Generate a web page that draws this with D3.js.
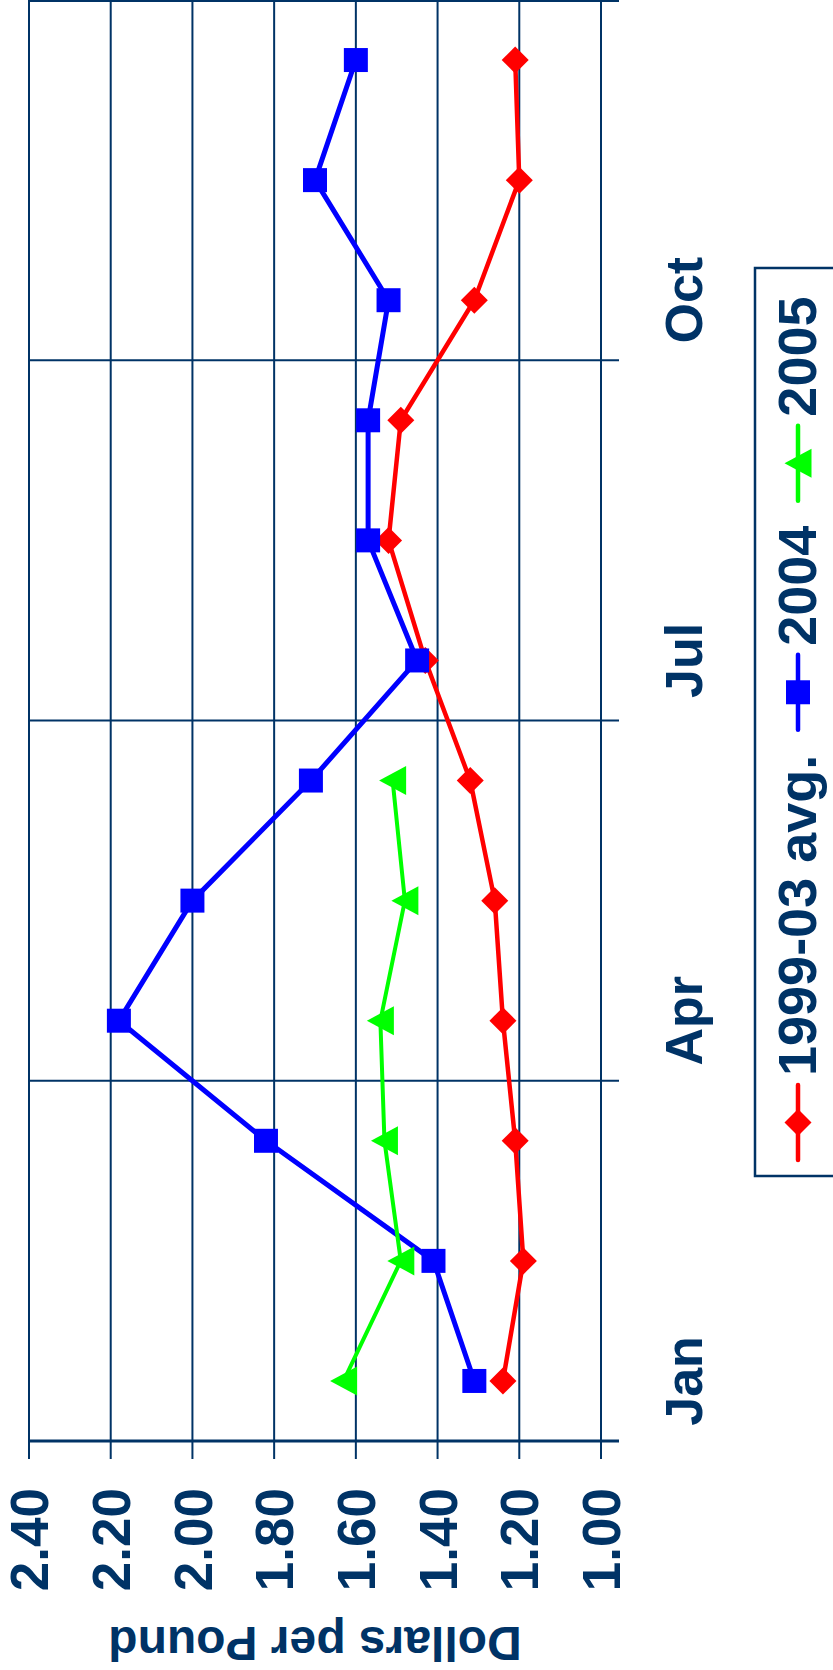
<!DOCTYPE html>
<html>
<head>
<meta charset="utf-8">
<script src="https://cdn.jsdelivr.net/npm/d3@7"></script>
<style>
  body { margin: 0; background: white; }
  svg { display: block; }
  text { font-family: "Liberation Sans", Arial, sans-serif; font-weight: bold; fill: #003366; }
</style>
</head>
<body>
<div id="container"></div>
<script>
let w = 833;
let h = 1670;

// DATA
let months = ["Jan","Feb","Mar","Apr","May","Jun","Jul","Aug","Sep","Oct","Nov","Dec"];
let monthLabels = ["Jan","","","Apr","","","Jul","","","Oct","",""];
let avg9903 = [1.24, 1.19, 1.21, 1.24, 1.26, 1.32, 1.43, 1.52, 1.49, 1.31, 1.20, 1.21];
let y2004 = [1.31, 1.41, 1.82, 2.18, 2.00, 1.71, 1.45, 1.57, 1.57, 1.52, 1.70, 1.60];
let y2005 = [1.63, 1.49, 1.53, 1.54, 1.48, 1.51];
let yTicks = [1.00, 1.20, 1.40, 1.60, 1.80, 2.00, 2.20, 2.40];
let seriesNames = ["1999-03 avg.", "2004", "2005"];
let seriesColors = ["#ff0000", "#0000ff", "#00ff00"];
let seriesShapes = ["diamond", "square", "triangle"];
let quarterStarts = ["Jan","Apr","Jul","Oct"];

let navy = "#003366";

let viz = d3.select("#container").append("svg")
    .attr("width", w)
    .attr("height", h);

// the chart is drawn in its normal orientation, then turned a quarter turn
let g = viz.append("g").attr("transform", "translate(0," + h + ") rotate(-90)");

let xScale = d3.scaleBand().domain(months).range([229, 1670]);
let yScale = d3.scaleLinear().domain([1.0, 2.4]).range([601, 29]);
let bw = xScale.bandwidth();

// gridlines
g.selectAll(".grid").data(yTicks).enter()
  .append("line")
    .attr("x1", 211).attr("x2", 1670)
    .attr("y1", d => yScale(d)).attr("y2", d => yScale(d))
    .attr("stroke", navy).attr("stroke-width", 2);

// quarter separators
let qx = quarterStarts.map(m => xScale(m)).concat([xScale("Dec") + bw - 1]);
g.selectAll(".qline").data(qx).enter()
  .append("line")
    .attr("x1", d => d).attr("x2", d => d)
    .attr("y1", 29).attr("y2", 619)
    .attr("stroke", navy).attr("stroke-width", 2);

// value axis
g.append("line")
  .attr("x1", 229).attr("x2", 229).attr("y1", 29).attr("y2", 619)
  .attr("stroke", navy).attr("stroke-width", 3);

g.selectAll(".ylab").data(yTicks).enter()
  .append("text")
    .attr("x", 182)
    .attr("y", d => yScale(d))
    .attr("dy", "0.36em")
    .attr("text-anchor", "end")
    .style("font-size", "53px")
    .text(d => d3.format(".2f")(d));

g.append("text")
  .attr("transform", "translate(43," + ((yScale(1.0) + yScale(2.4)) / 2) + ") rotate(-90)")
  .attr("text-anchor", "middle")
  .style("font-size", "48px")
  .text("Dollars per Pound");

// month labels
g.selectAll(".xlab").data(months).enter()
  .append("text")
    .attr("x", d => xScale(d) + bw / 2)
    .attr("y", 702)
    .attr("text-anchor", "middle")
    .style("font-size", "52px")
    .text((d, i) => monthLabels[i]);

function shapePath(shape) {
  if (shape == "square") return "M-12,-12H12V12H-12Z";
  if (shape == "diamond") return "M0,-13.5L13.5,0L0,13.5L-13.5,0Z";
  return "M0,-13.5L14.5,13.5L-14.5,13.5Z";
}

let allSeries = [avg9903, y2004, y2005];
let lineWidths = [4.5, 5, 4];

let lineMaker = d3.line()
    .x((d, i) => xScale(months[i]) + bw / 2)
    .y(d => yScale(d));

allSeries.forEach(function(vals, s){
  g.append("path")
    .attr("d", lineMaker(vals))
    .attr("fill", "none")
    .attr("stroke", seriesColors[s])
    .attr("stroke-width", lineWidths[s])
    .attr("stroke-linejoin", "round");
  g.selectAll(".m" + s).data(vals).enter()
    .append("path")
      .attr("d", shapePath(seriesShapes[s]))
      .attr("transform", (d, i) => "translate(" + (xScale(months[i]) + bw / 2) + "," + yScale(d) + ")")
      .attr("fill", seriesColors[s]);
});

// legend
let leg = g.append("g");
leg.append("rect")
  .attr("x", 494).attr("y", 755).attr("width", 908).attr("height", 200)
  .attr("fill", "white").attr("stroke", navy).attr("stroke-width", 2.5);

let lx = 510;
seriesNames.forEach(function(name, s){
  leg.append("line")
    .attr("x1", lx).attr("x2", lx + 75).attr("y1", 798).attr("y2", 798)
    .attr("stroke", seriesColors[s]).attr("stroke-width", 4.5).attr("stroke-linecap", "round");
  leg.append("path")
    .attr("d", shapePath(seriesShapes[s]))
    .attr("transform", "translate(" + (lx + 37.5) + ",798)")
    .attr("fill", seriesColors[s]);
  let t = leg.append("text")
    .attr("x", lx + 84).attr("y", 816)
    .style("font-size", "54px")
    .text(name);
  lx = lx + 84 + t.node().getComputedTextLength() + 25;
});
</script>
</body>
</html>
